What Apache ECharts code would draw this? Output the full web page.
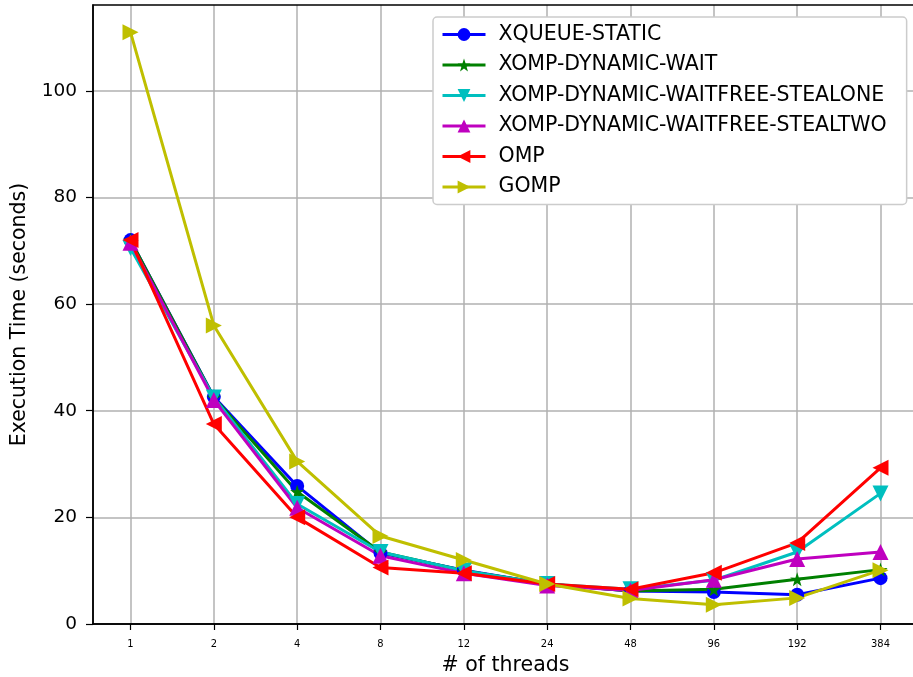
<!DOCTYPE html>
<html>
<head>
<meta charset="utf-8">
<title>Execution time vs threads</title>
<script src="https://cdn.jsdelivr.net/npm/echarts@6/dist/echarts.min.js"></script>
<style>
  html, body { margin: 0; padding: 0; background: #fff; }
  #chart { width: 913px; height: 677px; }
</style>
</head>
<body>
<div id="chart"></div>
<script>
// thread counts (x categories)
const threads = ['1', '2', '4', '8', '12', '24', '48', '96', '192', '384'];

// execution time in seconds
const xqueueStatic = [72.0, 42.6, 25.9, 13.3, 10.1, 7.5, 6.2, 6.0, 5.5, 8.6];
const xompWait = [72.0, 42.5, 24.8, 13.5, 10.0, 7.5, 6.2, 6.5, 8.4, 10.2];
const xompStealOne = [70.5, 42.5, 22.5, 13.5, 10.0, 7.5, 6.5, 8.2, 13.5, 24.5];
const xompStealTwo = [71.5, 42.0, 21.8, 12.8, 9.5, 7.2, 6.3, 8.3, 12.2, 13.5];
const omp = [72.0, 37.5, 20.0, 10.6, 9.5, 7.5, 6.5, 9.6, 15.2, 29.3];
const gomp = [111.0, 56.0, 30.5, 16.5, 12.0, 7.5, 4.8, 3.6, 4.9, 10.1];

const yTicks = [0, 20, 40, 60, 80, 100];

const STAR = 'path://M50,0 L61.8,35.3 L97.6,34.5 L69.1,56.9 L79.4,90.5 L50,70.5 L20.6,90.5 L30.9,56.9 L2.4,34.5 L38.2,35.3 Z';

const font = 'DejaVu Sans, Liberation Sans, sans-serif';
const narrow = 'DejaVu Sans Condensed, Liberation Sans Narrow, DejaVu Sans, sans-serif';

function toPoints(vals) {
  return vals.map((v, i) => [i, v]);
}

function mkSeries(name, vals, color, symbol, size, rotate) {
  return {
    name: name,
    type: 'line',
    data: toPoints(vals),
    symbol: symbol,
    symbolSize: size,
    symbolRotate: rotate || 0,
    showAllSymbol: true,
    lineStyle: { color: color, width: 3 },
    itemStyle: { color: color },
    emphasis: { disabled: true },
    animation: false
  };
}

const chart = echarts.init(document.getElementById('chart'));

const option = {
  backgroundColor: '#ffffff',
  animation: false,
  grid: { left: 93, top: 5, width: 825, height: 619, containLabel: false, outerBoundsMode: 'none' },
  legend: {
    left: 433,
    top: 17,
    orient: 'vertical',
    backgroundColor: '#ffffff',
    borderColor: '#cccccc',
    borderWidth: 1.5,
    borderRadius: 4,
    padding: [7, 20, 7, 8],
    itemGap: 9.5,
    itemWidth: 43,
    itemHeight: 16,
    lineStyle: { width: 3 },
    textStyle: { fontFamily: font, fontSize: 20.5, color: '#000', padding: [0, 0, 0, 8] },
    data: ['XQUEUE-STATIC', 'XOMP-DYNAMIC-WAIT', 'XOMP-DYNAMIC-WAITFREE-STEALONE',
      'XOMP-DYNAMIC-WAITFREE-STEALTWO', 'OMP', 'GOMP']
  },
  xAxis: {
    type: 'value',
    min: -0.45,
    max: 9.45,
    name: '# of threads',
    nameLocation: 'middle',
    nameGap: 31,
    nameTextStyle: { fontFamily: font, fontSize: 20.5, color: '#000' },
    axisLine: { onZero: false, lineStyle: { color: '#000', width: 1.5 } },
    axisTick: { show: true, length: 6, customValues: threads.map((t, i) => i), lineStyle: { color: '#000', width: 1.2 } },
    axisLabel: {
      customValues: threads.map((t, i) => i),
      formatter: v => threads[Math.round(v)],
      fontFamily: narrow,
      fontSize: 11,
      color: '#000',
      margin: 15
    },
    splitLine: { show: true, lineStyle: { color: '#b0b0b0', width: 1.5 } }
  },
  yAxis: {
    type: 'value',
    min: 0,
    max: 116.1,
    name: 'Execution Time (seconds)',
    nameLocation: 'middle',
    nameGap: 63,
    nameTextStyle: { fontFamily: font, fontSize: 20.5, color: '#000' },
    axisLine: { show: true, onZero: false, lineStyle: { color: '#000', width: 1.5 } },
    axisTick: { show: true, length: 7, customValues: yTicks, lineStyle: { color: '#000', width: 1.2 } },
    axisLabel: {
      customValues: yTicks,
      fontFamily: font,
      fontSize: 18.5,
      color: '#000',
      margin: 16
    },
    splitLine: { show: true, lineStyle: { color: '#b0b0b0', width: 1.5 } }
  },
  series: [
    mkSeries('XQUEUE-STATIC', xqueueStatic, '#0000ff', 'circle', 14),
    mkSeries('XOMP-DYNAMIC-WAIT', xompWait, '#008000', STAR, 14),
    mkSeries('XOMP-DYNAMIC-WAITFREE-STEALONE', xompStealOne, '#00bfbf', 'triangle', 16, 180),
    mkSeries('XOMP-DYNAMIC-WAITFREE-STEALTWO', xompStealTwo, '#bf00bf', 'triangle', 16),
    mkSeries('OMP', omp, '#ff0000', 'triangle', 16, 90),
    mkSeries('GOMP', gomp, '#bfbf00', 'triangle', 16, -90)
  ],
  graphic: [{
    type: 'rect',
    shape: { x: 93, y: 5, width: 825, height: 619 },
    style: { fill: 'none', stroke: '#000', lineWidth: 1.5 },
    silent: true,
    z: 10
  }]
};

chart.setOption(option);
</script>
</body>
</html>
